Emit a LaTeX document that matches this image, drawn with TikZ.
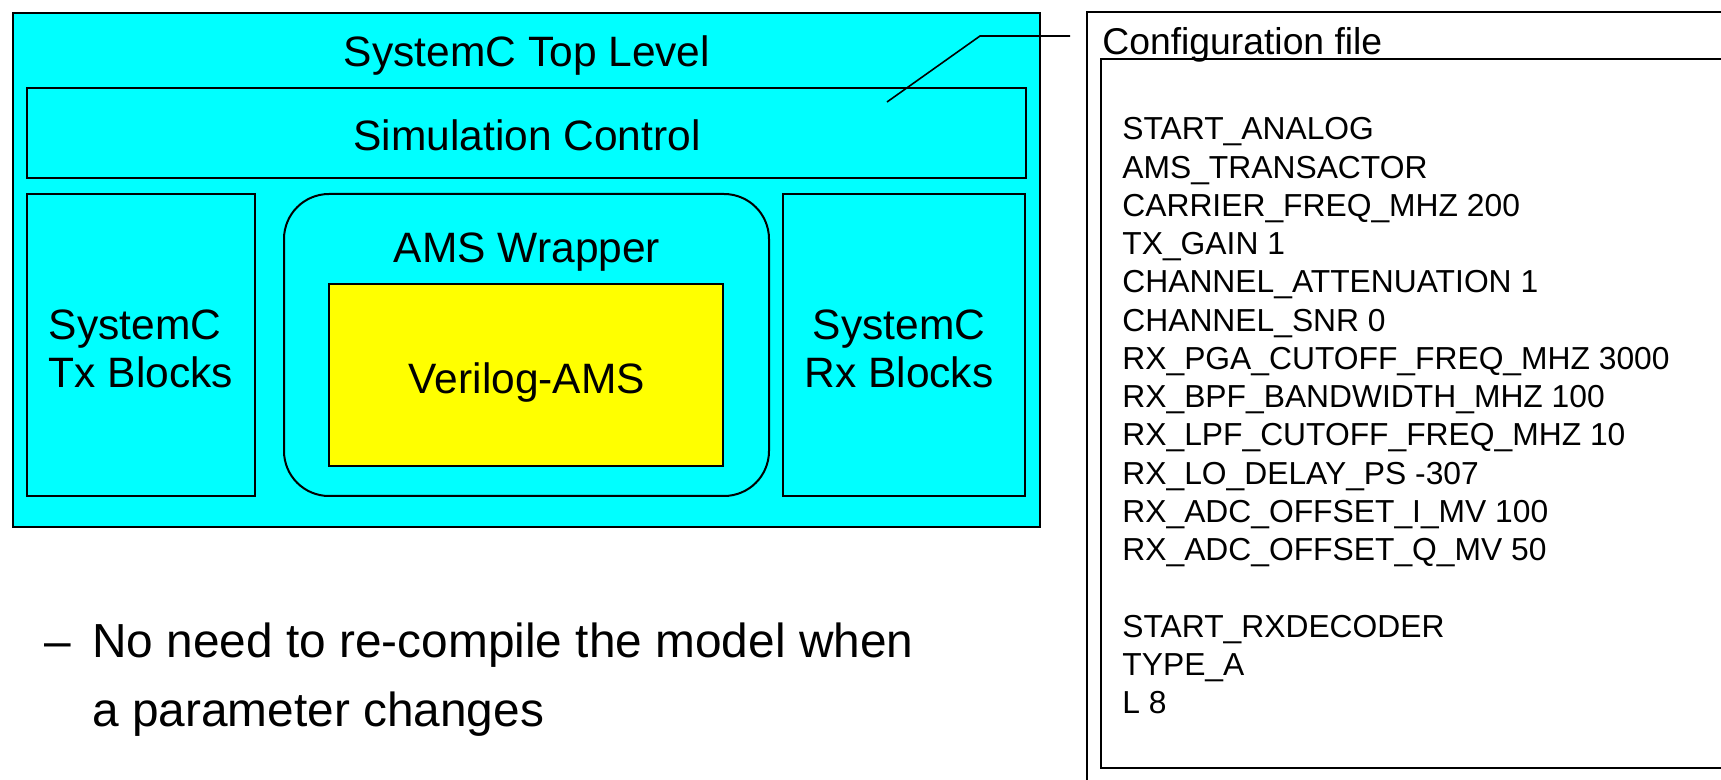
\documentclass[tikz,border=0pt]{standalone}
\usepackage{fontspec}
\setmainfont{Liberation Sans}
\definecolor{block area}{RGB}{0,255,255}
\definecolor{core area}{RGB}{255,255,0}
\tikzset{
  block/.style={draw=black, fill=block area, line width=1.3pt},
  wrapper/.style={draw=black, fill=block area, line width=1pt, rounded corners=22.5pt},
  core/.style={draw=black, fill=core area, line width=1.1pt},
  frame/.style={draw=black, line width=0.9pt}
  }
\tikzstyle{big label} = [font=\fontsize{21.25}{24.15}\selectfont, inner sep=0pt]
\tikzstyle{bullet text} = [font=\fontsize{23.9}{28}\selectfont, inner sep=0pt, anchor=base west]
\tikzstyle{cfg title} = [font=\fontsize{18.65}{22}\selectfont, inner sep=0pt, anchor=base west]
\tikzstyle{cfg line} = [font=\fontsize{15.9}{19}\selectfont, inner sep=0pt, anchor=base west]
\tikzstyle{callout} = [draw, line width=0.8pt, -]
\def\cfglines{0/START\_ANALOG, 1/AMS\_TRANSACTOR, 2/CARRIER\_FREQ\_MHZ 200, 3/TX\_GAIN 1, 4/CHANNEL\_ATTENUATION 1, 5/CHANNEL\_SNR 0, 6/RX\_PGA\_CUTOFF\_FREQ\_MHZ 3000, 7/RX\_BPF\_BANDWIDTH\_MHZ 100, 8/RX\_LPF\_CUTOFF\_FREQ\_MHZ 10, 9/RX\_LO\_DELAY\_PS -307, 10/RX\_ADC\_OFFSET\_I\_MV 100, 11/RX\_ADC\_OFFSET\_Q\_MV 50, 13/START\_RXDECODER, 14/TYPE\_A, 15/L 8}

\begin{document}
\begin{tikzpicture}[x=0.5pt, y=-0.5pt]

    \useasboundingbox (0,0) rectangle (1721,780);
    \clip (0,0) rectangle (1721,780);

    % The SystemC model and its blocks
    \path[block] (13,13) rectangle (1040,527);
    \path[block] (27,88) rectangle (1026,178);
    \path[block] (27,194) rectangle (255,496);
    \path[block] (783,194) rectangle (1025,496);
    \path[wrapper] (284,194) rectangle (769,496);
    \path[core] (329,284) rectangle (723,466);

    \node[big label, anchor=base] (top) at (527,67) {SystemC Top Level};
    \node[big label, anchor=base] (simctrl) at (527,151) {Simulation Control};
    \node[big label, anchor=base] (amswrap) at (527,263) {AMS Wrapper};
    \node[big label, anchor=base] (verilog) at (527,394) {Verilog-AMS};
    \node[big label, align=left] (txblocks) at (141,349) {SystemC\\Tx Blocks};
    \node[big label, align=center] (rxblocks) at (899,349) {SystemC\\Rx Blocks};

    % The configuration file
    \path[frame] (1087,12) rectangle (1760,800);
    \path[frame] (1101,59) rectangle (1760,768);
    \node[cfg title] (cfgtitle) at (1102,55) {Configuration file};

    \foreach \n/\txt in \cfglines
      \node[cfg line] (line\n) at (1122,{139.8+\n*38.27}) {\txt};

    % The pointer from the model to the file
    \coordinate (callin) at (887,102);
    \coordinate (callbend) at (980,36);
    \coordinate (callend) at (1070,36);
    \path[callout] (callin) -- (callbend) -- (callend);

    % The remark below
    \node[bullet text] (dash) at (44,658) {–};
    \node[bullet text] (remark1) at (92,658) {No need to re-compile the model when};
    \node[bullet text] (remark2) at (92,727) {a parameter changes};

\end{tikzpicture}
\end{document}
